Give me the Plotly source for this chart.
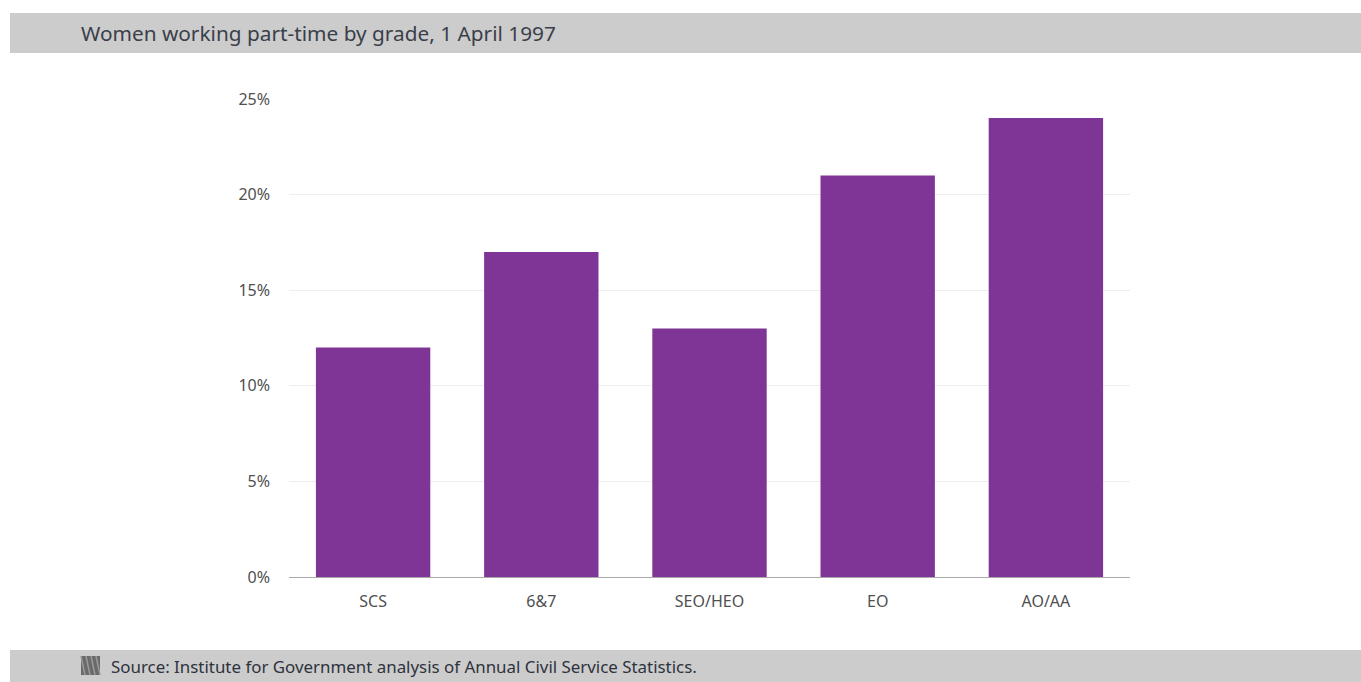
import plotly.graph_objects as go

grades = ['SCS', '6&7', 'SEO/HEO', 'EO', 'AO/AA']
part_time_pct = [12, 17, 13, 21, 24]
y_ticks = [0, 5, 10, 15, 20, 25]
y_tick_labels = ['0%', '5%', '10%', '15%', '20%', '25%']

W, H = 1361, 682
L, R, T, B = 289, 231, 99, 105
pw, ph = W - L - R, H - T - B


def px_x(x):
    return (x - L) / pw


def px_y(y):
    return (H - B - y) / ph


fig = go.Figure(go.Bar(x=grades, y=part_time_pct, marker_color='#7f3596',
                       marker_line_width=0))

shapes = [
    # header band
    dict(type='rect', xref='paper', yref='paper', x0=px_x(10), x1=px_x(1361),
         y0=px_y(53), y1=px_y(13), fillcolor='#cccccc', line_width=0, layer='below'),
    # footer band
    dict(type='rect', xref='paper', yref='paper', x0=px_x(10), x1=px_x(1361),
         y0=px_y(682), y1=px_y(650), fillcolor='#cccccc', line_width=0, layer='below'),
    # source icon
    dict(type='rect', xref='paper', yref='paper', x0=px_x(81), x1=px_x(100),
         y0=px_y(675), y1=px_y(656), fillcolor='#6a6a6a', line_width=0),
]
for off in [0, 5, 10, 15]:
    shapes.append(dict(type='line', xref='paper', yref='paper',
                       x0=px_x(81 + off), x1=px_x(85 + off),
                       y0=px_y(656), y1=px_y(675),
                       line=dict(color='#9a9a9a', width=1.5)))

fig.update_layout(
    width=W, height=H,
    margin=dict(l=L, r=R, t=T, b=B),
    plot_bgcolor='white', paper_bgcolor='white',
    bargap=0.32,
    showlegend=False,
    font=dict(family='Noto Sans', color='#505050'),
    xaxis=dict(
        showgrid=False, zeroline=False,
        showline=True, linecolor='#aaaaaa', linewidth=1,
        tickfont=dict(size=16, color='#505050'),
        ticks='', ticklabelstandoff=10,
    ),
    yaxis=dict(
        range=[0, 25],
        tickvals=y_ticks, ticktext=y_tick_labels,
        showgrid=True, gridcolor='#eeeeee', gridwidth=1,
        zeroline=False, showline=False,
        tickfont=dict(size=16, color='#505050'),
        ticks='', ticklabelstandoff=18,
    ),
    shapes=shapes,
    annotations=[
        dict(text='Women working part-time by grade, 1 April 1997', xref='paper', yref='paper',
             x=px_x(79), y=px_y(33), xanchor='left', yanchor='middle', showarrow=False,
             font=dict(size=20.8, color='#3a3f4a', family='Noto Sans')),
        dict(text='Source: Institute for Government analysis of Annual Civil Service Statistics.',
             xref='paper', yref='paper',
             x=px_x(109), y=px_y(666), xanchor='left', yanchor='middle', showarrow=False,
             font=dict(size=16.9, color='#2e333d', family='Noto Sans')),
    ],
)

# drop the default page margin so the figure fills the window exactly
fig.write_html('out.html', config={'displayModeBar': False},
               post_script="document.body.style.margin='0';document.body.style.overflow='hidden';")
